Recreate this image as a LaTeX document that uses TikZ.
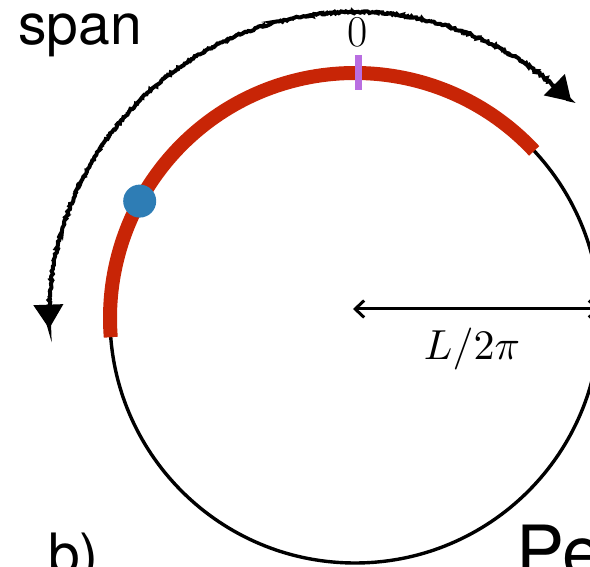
\documentclass[tikz,border=0pt]{standalone}
\usepackage{graphicx}
\usepackage{fontspec}
\setsansfont{TeX Gyre Heros}
\usetikzlibrary{arrows.meta,decorations.pathmorphing}
\definecolor{arcred}{HTML}{C82506}
\definecolor{dotblue}{HTML}{2E7DB5}
\definecolor{tickpurple}{HTML}{B96EE1}
\tikzset{
  chalk/.style={line width=4pt, decorate,
    decoration={random steps, segment length=1.5pt, amplitude=1pt, pre length=3pt, post length=3pt}},
  lbl/.style={inner sep=0pt, font=\sffamily\fontsize{57}{57}\selectfont},
}
\begin{document}
\begin{tikzpicture}[x=1pt,y=1pt]
\useasboundingbox (0,0) rectangle (590,567);
\coordinate (C) at (355,249);
% ring
\draw[line width=3.4pt] (C) circle[radius=245];
% red arc
\draw[arcred, line width=14pt] ([shift={(43:245)}]C) arc[start angle=43, end angle=184.5, radius=245];
% purple tick
\coordinate (t1) at (358,512);
\coordinate (t2) at (358,477);
\draw[tickpurple, line width=7pt] (t1) -- (t2);
% blue dot
\node[circle, fill=dotblue, minimum size=33pt, inner sep=0pt] (dot) at ([shift={(151.5:245)}]C) {};
% span arrow
\draw[chalk, {Triangle[length=24pt,width=29pt]}-{Triangle[length=24pt,width=29pt]}]
  ([shift={(45:306)}]C) arc[start angle=45, end angle=182, radius=306];
% radius arrow
\coordinate (rs) at (353,258);
\coordinate (re) at (600,258);
\draw[line width=3pt, {Straight Barb[length=9pt,width=17pt]}-{Straight Barb[length=9pt,width=17pt]}] (rs) -- (re);
% labels
\node[anchor=base, inner sep=0pt, font=\fontsize{44}{44}\selectfont] (zero) at (358,520) {0};
\node[anchor=base, inner sep=0pt] (len) at (472,207) {\scalebox{4.2}{$L/2\pi$}};
\node[lbl, anchor=base west] (span) at (18,522) {span};
\node[lbl, anchor=base west] (b) at (48,-8) {b)};
\node[inner sep=0pt, font=\sffamily\fontsize{72}{72}\selectfont, anchor=base west] (pe) at (516,-11) {Pe};
\end{tikzpicture}
\end{document}
